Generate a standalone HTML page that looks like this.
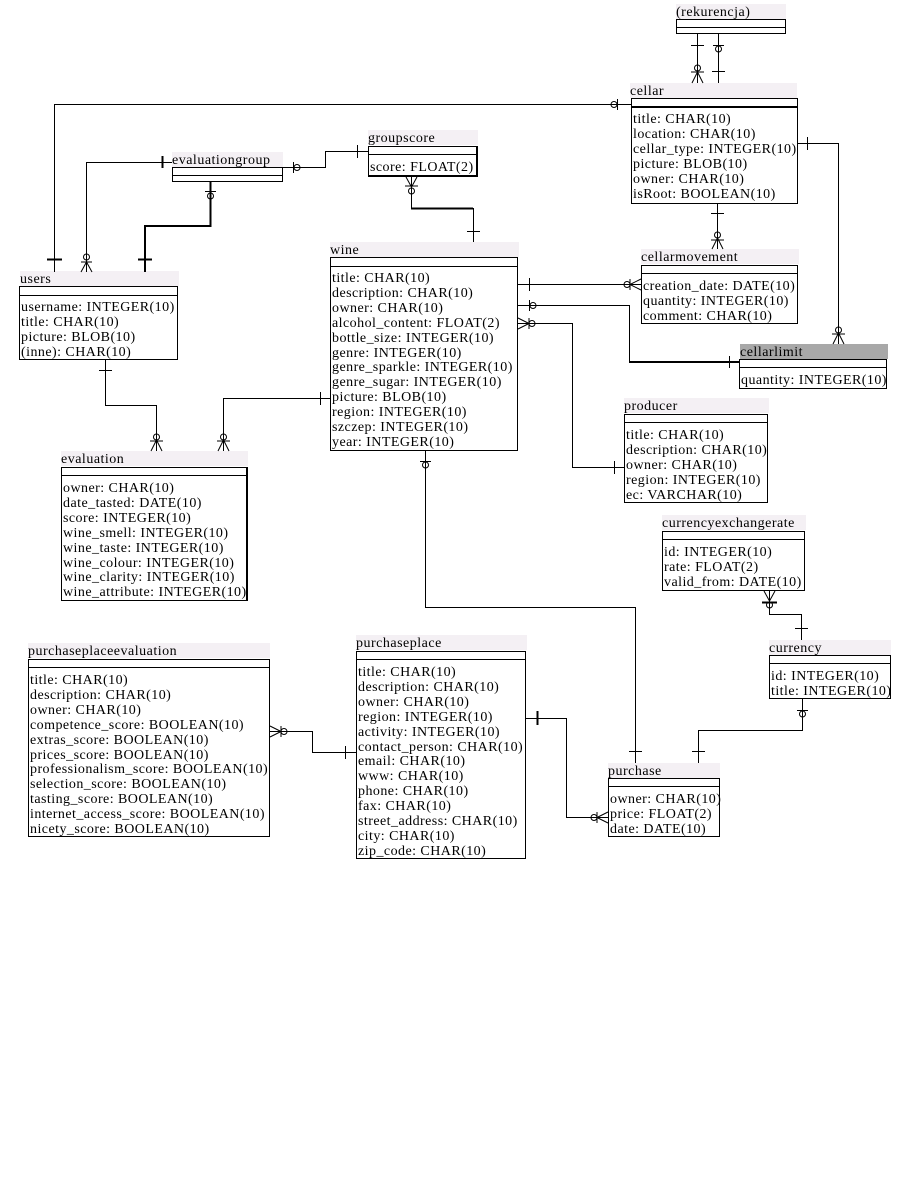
<!DOCTYPE html>
<html><head><meta charset="utf-8"><style>
body{margin:0;width:900px;height:1200px;background:#fff;position:relative;overflow:hidden;font-family:"Liberation Serif",serif;}
.lb{position:absolute;height:15px;background:#f4f0f4;font-size:14px;line-height:18px;white-space:nowrap;letter-spacing:0.5px;}
.bx{position:absolute;border:1px solid #000;box-sizing:border-box;}
.hl{position:absolute;left:0;right:0;top:7px;border-top:1px solid #000;}
.tx{position:absolute;left:1px;top:14px;font-size:14px;line-height:14.9px;white-space:nowrap;letter-spacing:0.45px;}
svg{position:absolute;left:0;top:0;}
</style></head><body>

<div class="lb" style="left:676px;top:4px;width:110px">(rekurencja)</div>
<div class="bx" style="left:676px;top:19px;width:110px;height:15px"><div class="hl"></div></div>

<div class="lb" style="left:630px;top:83px;width:167px">cellar</div>
<div class="bx" style="left:631px;top:98px;width:167px;height:106px"><div class="hl" style="border-top-width:2px"></div><div class="tx">title: CHAR(10)<br>location: CHAR(10)<br>cellar_type: INTEGER(10)<br>picture: BLOB(10)<br>owner: CHAR(10)<br>isRoot: BOOLEAN(10)</div></div>

<div class="lb" style="left:368px;top:130px;width:110px">groupscore</div>
<div class="bx" style="left:368px;top:146px;width:110px;height:31px;border-width:1px 2px 2px 1px"><div class="hl"></div><div class="tx">score: FLOAT(2)</div></div>

<div class="lb" style="left:172px;top:152px;width:111px">evaluationgroup</div>
<div class="bx" style="left:172px;top:167px;width:111px;height:15px"><div class="hl"></div></div>

<div class="lb" style="left:20px;top:271px;width:159px">users</div>
<div class="bx" style="left:19px;top:286px;width:159px;height:74px"><div class="hl" style="top:8px"></div><div class="tx">username: INTEGER(10)<br>title: CHAR(10)<br>picture: BLOB(10)<br>(inne): CHAR(10)</div></div>

<div class="lb" style="left:330px;top:242px;width:189px">wine</div>
<div class="bx" style="left:330px;top:257px;width:188px;height:194px"><div class="hl" style="top:8px"></div><div class="tx">title: CHAR(10)<br>description: CHAR(10)<br>owner: CHAR(10)<br>alcohol_content: FLOAT(2)<br>bottle_size: INTEGER(10)<br>genre: INTEGER(10)<br>genre_sparkle: INTEGER(10)<br>genre_sugar: INTEGER(10)<br>picture: BLOB(10)<br>region: INTEGER(10)<br>szczep: INTEGER(10)<br>year: INTEGER(10)</div></div>

<div class="lb" style="left:641px;top:249px;width:158px">cellarmovement</div>
<div class="bx" style="left:641px;top:265px;width:157px;height:59px"><div class="hl"></div><div class="tx">creation_date: DATE(10)<br>quantity: INTEGER(10)<br>comment: CHAR(10)</div></div>

<div class="lb" style="left:740px;top:344px;width:148px;background:#a8a8a8">cellarlimit</div>
<div class="bx" style="left:739px;top:359px;width:148px;height:30px"><div class="hl"></div><div class="tx">quantity: INTEGER(10)</div></div>

<div class="lb" style="left:624px;top:398px;width:145px">producer</div>
<div class="bx" style="left:624px;top:414px;width:144px;height:89px"><div class="hl"></div><div class="tx">title: CHAR(10)<br>description: CHAR(10)<br>owner: CHAR(10)<br>region: INTEGER(10)<br>ec: VARCHAR(10)</div></div>

<div class="lb" style="left:61px;top:451px;width:187px">evaluation</div>
<div class="bx" style="left:61px;top:467px;width:187px;height:134px;border-right-width:2px"><div class="hl"></div><div class="tx">owner: CHAR(10)<br>date_tasted: DATE(10)<br>score: INTEGER(10)<br>wine_smell: INTEGER(10)<br>wine_taste: INTEGER(10)<br>wine_colour: INTEGER(10)<br>wine_clarity: INTEGER(10)<br>wine_attribute: INTEGER(10)</div></div>

<div class="lb" style="left:662px;top:515px;width:144px">currencyexchangerate</div>
<div class="bx" style="left:662px;top:531px;width:143px;height:60px"><div class="hl"></div><div class="tx">id: INTEGER(10)<br>rate: FLOAT(2)<br>valid_from: DATE(10)</div></div>

<div class="lb" style="left:769px;top:640px;width:122px">currency</div>
<div class="bx" style="left:769px;top:655px;width:122px;height:44px"><div class="hl"></div><div class="tx">id: INTEGER(10)<br>title: INTEGER(10)</div></div>

<div class="lb" style="left:28px;top:643px;width:242px">purchaseplaceevaluation</div>
<div class="bx" style="left:28px;top:659px;width:242px;height:178px"><div class="hl"></div><div class="tx">title: CHAR(10)<br>description: CHAR(10)<br>owner: CHAR(10)<br>competence_score: BOOLEAN(10)<br>extras_score: BOOLEAN(10)<br>prices_score: BOOLEAN(10)<br>professionalism_score: BOOLEAN(10)<br>selection_score: BOOLEAN(10)<br>tasting_score: BOOLEAN(10)<br>internet_access_score: BOOLEAN(10)<br>nicety_score: BOOLEAN(10)</div></div>

<div class="lb" style="left:356px;top:635px;width:171px">purchaseplace</div>
<div class="bx" style="left:356px;top:651px;width:170px;height:208px"><div class="hl"></div><div class="tx">title: CHAR(10)<br>description: CHAR(10)<br>owner: CHAR(10)<br>region: INTEGER(10)<br>activity: INTEGER(10)<br>contact_person: CHAR(10)<br>email: CHAR(10)<br>www: CHAR(10)<br>phone: CHAR(10)<br>fax: CHAR(10)<br>street_address: CHAR(10)<br>city: CHAR(10)<br>zip_code: CHAR(10)</div></div>

<div class="lb" style="left:608px;top:763px;width:112px">purchase</div>
<div class="bx" style="left:608px;top:778px;width:112px;height:59px"><div class="hl"></div><div class="tx">owner: CHAR(10)<br>price: FLOAT(2)<br>date: DATE(10)</div></div>

<svg width="900" height="1200" fill="none" stroke="#000" stroke-width="1">
<path d="M54.5 272V104.5H631"/>
<path d="M47 259.5H62" stroke-width="2"/>
<path d="M617.5 99V110"/><circle cx="614" cy="104.5" r="3"/>
<path d="M86.5 272V162.5H172"/>
<path d="M162.5 156V168" stroke-width="2"/>
<path d="M86.5 262L81 272M86.5 262L92 272M81 262H92"/><circle cx="86.5" cy="257" r="3"/>
<path d="M145 272V226H210.5V182" stroke-width="2"/>
<path d="M138 259.5H152" stroke-width="2"/>
<path d="M205 191.5H216"/><circle cx="210.5" cy="196" r="3"/>
<path d="M283 167.5H325.5V151.5H368"/>
<path d="M357.5 145V158"/>
<path d="M293.5 162V173"/><circle cx="297" cy="167.5" r="3"/>
<path d="M411.5 177V208"/><path d="M411 208.5H473" stroke-width="2"/><path d="M473.5 208V242"/>
<path d="M467 231.5H480"/>
<path d="M411.5 187L406 177M411.5 187L417 177M405 186H418" /><circle cx="411.5" cy="191" r="3"/>
<path d="M697.5 34V83M718.5 34V83"/>
<path d="M691 45.5H704M712 71.5H725"/>
<path d="M697.5 72L692 83M697.5 72L703 83M691 72H704"/><circle cx="697.5" cy="68" r="3"/>
<path d="M713 45.5H724"/><circle cx="718.5" cy="49" r="3"/>
<path d="M717.5 204V249"/><path d="M711 213.5H724"/>
<path d="M717.5 238L712 249M717.5 238L723 249M711 240H724"/><circle cx="717.5" cy="235" r="3"/>
<path d="M798 143.5H838.5V344"/><path d="M807.5 137V150"/>
<path d="M838.5 333L833 344M838.5 333L844 344M832 334H845"/><circle cx="838.5" cy="330" r="3"/>
<path d="M518 284.5H641"/><path d="M529.5 278V291"/>
<path d="M630 284.5L641 279M630 284.5L641 290M630 279V290"/><circle cx="627" cy="284.5" r="3"/>
<path d="M518 305.5H629.5V362"/><path d="M629 362H739" stroke-width="2"/>
<path d="M729.5 356V368"/>
<path d="M529.5 300V311"/><circle cx="533" cy="305.5" r="3"/>
<path d="M518 323.5H572.5V467.5H624"/><path d="M614.5 461V474"/>
<path d="M529 323.5L518 318M529 323.5L518 329M529 318V329"/><circle cx="532" cy="323.5" r="3"/>
<path d="M105.5 360V405.5H156.5V451"/><path d="M99 370.5H112"/>
<path d="M156.5 440L151 451M156.5 440L162 451M150 441H163"/><circle cx="156.5" cy="437" r="3"/>
<path d="M330 398.5H223.5V451"/><path d="M320.5 392V405"/>
<path d="M223.5 440L218 451M223.5 440L229 451M217 441H230"/><circle cx="223.5" cy="437" r="3"/>
<path d="M425.5 451V607.5H635.5V763"/>
<path d="M420 461.5H431"/><circle cx="425.5" cy="465" r="3"/>
<path d="M629 751.5H642"/>
<path d="M769.5 591V614.5H801.5V640"/><path d="M795 628.5H808"/>
<path d="M769.5 601L764 591M769.5 601L775 591"/><path d="M762 602.5H777" stroke-width="2"/><circle cx="769.5" cy="605" r="3"/>
<path d="M802.5 699V730.5H698.5V763"/><path d="M692 751.5H705"/>
<path d="M797 710.5H808"/><circle cx="802.5" cy="714" r="3"/>
<path d="M526 718.5H566.5V817.5H608"/><path d="M537.5 711V725" stroke-width="2"/>
<path d="M597 817.5L608 812M597 817.5L608 823M597 812V823"/><circle cx="594" cy="817.5" r="3"/>
<path d="M270 731.5H312.5V752.5H356"/><path d="M345.5 746V759"/>
<path d="M281 731.5L270 726M281 731.5L270 737M281 726V737"/><circle cx="284" cy="731.5" r="3"/>
</svg>
</body></html>
